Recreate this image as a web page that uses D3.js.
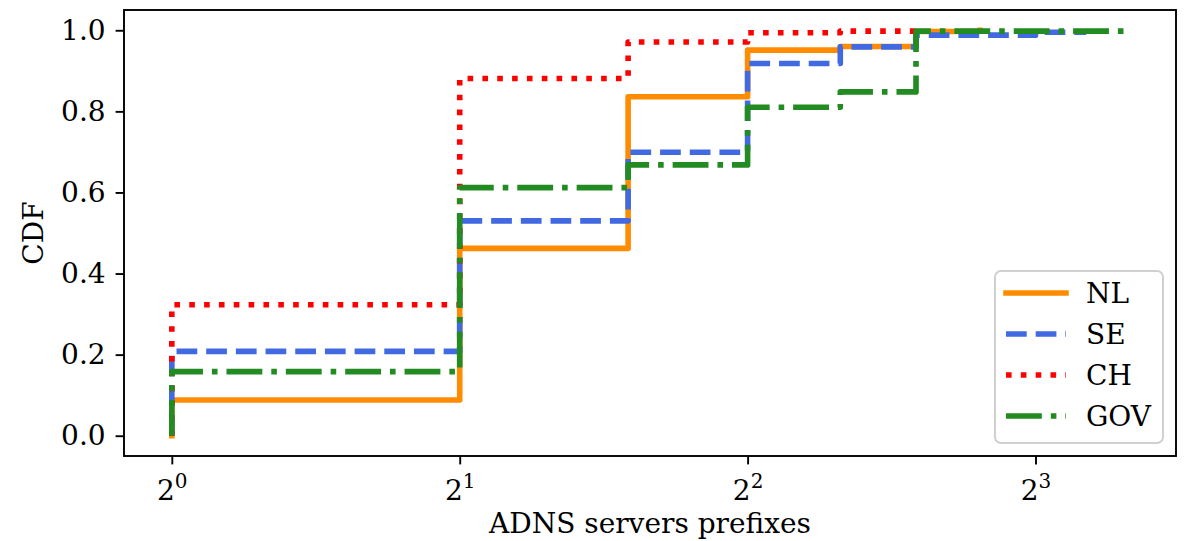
<!DOCTYPE html>
<html lang="en">
<head>
  <meta charset="UTF-8">
  <title>CDF ADNS prefixes</title>
  <style>
    body { margin: 0; background: #fff; }
    text { font-family: "DejaVu Serif", serif; fill: #000; }
  </style>
</head>
<body>
  <svg id="chart" width="1196" height="541"></svg>

  <script src="https://d3js.org/d3.v7.min.js"></script>
  <script>
    // number of ADNS server prefixes (x) and CDF value reached there
    const seriesNames = ['NL', 'SE', 'CH', 'GOV'];
    const nlX = [1, 2, 3, 4, 5, 6, 7];
    const nlCdf = [0.088, 0.462, 0.836, 0.951, 0.960, 0.997, 1.0];
    const seX = [1, 2, 3, 4, 5, 6, 8, 9];
    const seCdf = [0.208, 0.530, 0.699, 0.918, 0.959, 0.988, 0.995, 1.0];
    const chX = [1, 2, 3, 4, 5, 6];
    const chCdf = [0.323, 0.881, 0.971, 0.994, 0.998, 1.0];
    const govX = [1, 2, 3, 4, 5, 6, 10];
    const govCdf = [0.158, 0.612, 0.668, 0.810, 0.848, 0.998, 1.0];

    const yTicks = [0, 0.2, 0.4, 0.6, 0.8, 1.0];
    const xTicks = [1, 2, 4, 8];

    const lw = 5.6;
    const styles = {
      NL: { color: '#ff8c00', dash: null },
      SE: { color: '#4169e1', dash: [3.7 * lw, 1.6 * lw] },
      CH: { color: '#ff0000', dash: [1 * lw, 1.65 * lw] },
      GOV: { color: '#228b22', dash: [6.4 * lw, 1.6 * lw, 1 * lw, 1.6 * lw] }
    };

    const series = [
      { name: 'NL', xs: nlX, ys: nlCdf },
      { name: 'SE', xs: seX, ys: seCdf },
      { name: 'CH', xs: chX, ys: chCdf },
      { name: 'GOV', xs: govX, ys: govCdf }
    ];

    const plotL = 124, plotR = 1176, plotT = 10, plotB = 456;

    // matplotlib-like 5% margins on log2 axis, data from 1 to 10
    const lo = 0, hi = Math.log2(10);
    const pad = (hi - lo) * 0.05;
    const x = d3.scaleLog().base(2)
      .domain([Math.pow(2, lo - pad), Math.pow(2, hi + pad)])
      .range([plotL, plotR]);
    const y = d3.scaleLinear().domain([-0.05, 1.05]).range([plotB, plotT]);

    const svg = d3.select('#chart');

    // lines
    const line = d3.line()
      .x(d => x(d[0]))
      .y(d => y(d[1]))
      .curve(d3.curveStepAfter);

    const plot = svg.append('g');
    series.forEach(s => {
      const pts = [[s.xs[0], 0]].concat(s.xs.map((v, i) => [v, s.ys[i]]));
      const st = styles[s.name];
      plot.append('path')
        .attr('d', line(pts))
        .attr('fill', 'none')
        .attr('stroke', st.color)
        .attr('stroke-width', lw)
        .attr('stroke-linejoin', 'round')
        .attr('stroke-linecap', st.dash ? 'butt' : 'square')
        .attr('stroke-dasharray', st.dash ? st.dash.join(',') : null);
    });

    // frame
    svg.append('rect')
      .attr('x', plotL).attr('y', plotT)
      .attr('width', plotR - plotL).attr('height', plotB - plotT)
      .attr('fill', 'none').attr('stroke', '#000').attr('stroke-width', 1.9);

    // y axis
    const yAxis = svg.append('g')
      .attr('transform', `translate(${plotL},0)`)
      .call(d3.axisLeft(y).tickValues(yTicks).tickSize(8.4).tickPadding(10)
        .tickFormat(d3.format('.1f')));
    yAxis.select('.domain').remove();
    yAxis.selectAll('line').attr('stroke', '#000').attr('stroke-width', 1.9);
    yAxis.selectAll('text')
      .attr('font-family', '"DejaVu Serif", serif')
      .attr('font-size', 28)
      .attr('fill', '#000');

    // x axis with power-of-two labels
    const xAxis = svg.append('g')
      .attr('transform', `translate(0,${plotB})`)
      .call(d3.axisBottom(x).tickValues(xTicks).tickSize(8.4).tickFormat(''));
    xAxis.select('.domain').remove();
    xAxis.selectAll('line').attr('stroke', '#000').attr('stroke-width', 1.9);
    xAxis.selectAll('.tick').each(function (d) {
      const t = d3.select(this).append('text')
        .attr('y', 44)
        .attr('text-anchor', 'middle')
        .attr('font-family', '"DejaVu Serif", serif')
        .attr('font-size', 28);
      t.append('tspan').text('2');
      t.append('tspan').attr('font-size', 20).attr('dy', -12).text(Math.log2(d));
    });

    // axis titles
    svg.append('text')
      .attr('x', (plotL + plotR) / 2).attr('y', 533)
      .attr('text-anchor', 'middle')
      .attr('font-size', 28)
      .text('ADNS servers prefixes');

    svg.append('text')
      .attr('transform', `translate(43,${(plotT + plotB) / 2}) rotate(-90)`)
      .attr('text-anchor', 'middle')
      .attr('font-size', 28)
      .text('CDF');

    // legend
    const lg = svg.append('g');
    lg.append('rect')
      .attr('x', 995).attr('y', 271)
      .attr('width', 168).attr('height', 172)
      .attr('rx', 6)
      .attr('fill', 'rgba(255,255,255,0.8)')
      .attr('stroke', '#d0d0d0').attr('stroke-width', 2);

    const rowY = d3.scalePoint().domain(seriesNames).range([293, 416]);
    seriesNames.forEach(n => {
      const st = styles[n];
      lg.append('line')
        .attr('x1', 1006).attr('x2', 1066)
        .attr('y1', rowY(n)).attr('y2', rowY(n))
        .attr('stroke', st.color)
        .attr('stroke-width', lw)
        .attr('stroke-linecap', st.dash ? 'butt' : 'square')
        .attr('stroke-dasharray', st.dash ? st.dash.join(',') : null);
      lg.append('text')
        .attr('x', 1086).attr('y', rowY(n))
        .attr('dy', '0.35em')
        .attr('font-size', 28)
        .text(n);
    });
  </script>
</body>
</html>
